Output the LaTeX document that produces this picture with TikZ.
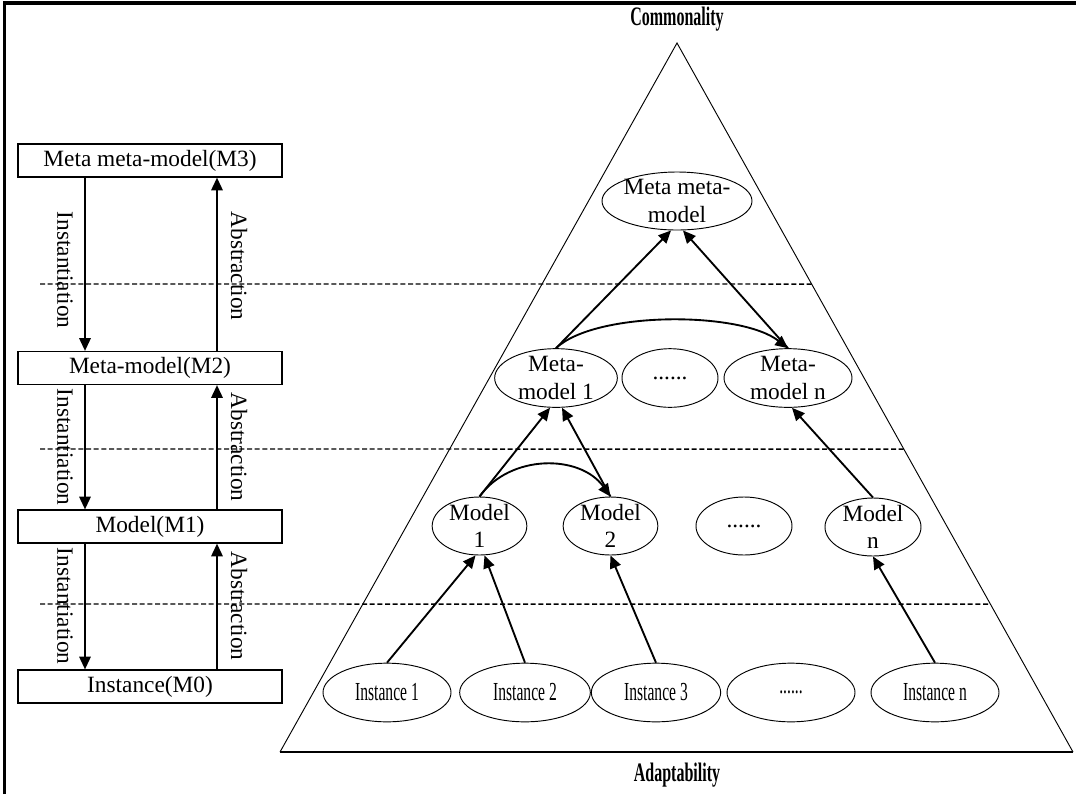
\documentclass[tikz,border=0pt]{standalone}
\usepackage{fontspec}
\usepackage{graphicx}
\setmainfont{Liberation Serif}
\usetikzlibrary{arrows.meta,calc,shapes.geometric}
% horizontally condensed text
\newcommand{\condensed}[1]{\scalebox{0.6}[1]{#1}}

\begin{document}
\begin{tikzpicture}[x=0.75pt,y=-0.75pt,
  font=\fontsize{17.5}{20.5}\selectfont,
  level/.style={draw,line width=0.9pt,minimum width=198pt,minimum height=24.75pt,inner sep=0pt},
  oval/.style={draw,ellipse,line width=0.7pt,inner sep=0pt,minimum width=#1,minimum height=44pt},
  txt/.style={align=center,inner sep=0pt},
  itxt/.style={txt,font=\fontsize{19.5}{21}\selectfont},
  arr/.style={line width=1.4pt,-{Triangle[length=9.5pt,width=8.5pt]}},
  sep/.style={line width=1.1pt,dash pattern=on 3.75pt off 2pt},
  vlabel/.style={rotate=-90,inner sep=0pt},
  heading/.style={font=\bfseries\fontsize{20}{22}\selectfont}
]
\useasboundingbox (0,0) rectangle (1076,794);

% outer frame (top and left edges)
\draw[line width=2.6pt] (4.5,794) -- (4.5,3) -- (1076,3);

% ---------- metamodel levels ----------
\node[level] (m3) at (150,160.5) {Meta meta-model(M3)};
\node[level] (m2) at (150,368) {Meta-model(M2)};
\node[level] (m1) at (150,526.5) {Model(M1)};
\node[level] (m0) at (150,686.5) {Instance(M0)};

\coordinate (dn) at (85,0);
\coordinate (up) at (217,0);

\draw[arr] (m3.south -| dn) -- (m2.north -| dn);
\draw[arr] (m2.south -| dn) -- (m1.north -| dn);
\draw[arr] (m1.south -| dn) -- (m0.north -| dn);
\draw[arr] (m2.north -| up) -- (m3.south -| up);
\draw[arr] (m1.north -| up) -- (m2.south -| up);
\draw[arr] (m0.north -| up) -- (m1.south -| up);

\node[vlabel] (in3) at (65,270) {Instantiation};
\node[vlabel] (in2) at (65,447) {Instantiation};
\node[vlabel] (in1) at (65,606) {Instantiation};
\node[vlabel] (ab3) at (239,266) {Abstraction};
\node[vlabel] (ab2) at (239,447) {Abstraction};
\node[vlabel] (ab1) at (239,606) {Abstraction};

% ---------- pyramid ----------
\coordinate (apex) at (677,43);
\coordinate (bl) at (280,752);
\coordinate (br) at (1073,752);
\draw[line width=0.7pt] (bl) -- (apex) -- (br);
\draw[line width=1.1pt] (bl) -- (br);

\node[heading] (top) at (677,19) {\condensed{Commonality}};
\node[heading] (bottom) at (677,775) {\condensed{Adaptability}};

% level separators
\draw[sep] (40,284) -- (intersection of apex--br and 0,284--1076,284);
\draw[sep] (40,449) -- (intersection of apex--br and 0,449--1076,449);
\draw[sep] (40,604) -- (intersection of apex--br and 0,604--1076,604);

% ---------- ellipses ----------
\node[oval=112.5pt,minimum height=43.5pt,label={[txt]center:Meta meta-\\model}] (mmm) at (677,201) {};

\node[oval=92pt,label={[txt]center:Meta-\\model 1}] (mm1) at (556,378) {};
\node[oval=72pt,label={[txt]center:......}] (mmd) at (670,378) {};
\node[oval=96pt,label={[txt]center:Meta-\\model n}] (mmn) at (788,378) {};

\node[oval=71pt,minimum height=43.5pt,label={[txt]center:Model\\1}] (md1) at (479.5,526) {};
\node[oval=71pt,minimum height=43.5pt,label={[txt]center:Model\\2}] (md2) at (610.5,526) {};
\node[oval=72pt,minimum height=43.5pt,label={[txt]center:......}] (mdd) at (744,526) {};
\node[oval=72pt,minimum height=43.5pt,label={[txt]center:Model\\n}] (mdn) at (873,527) {};

\node[oval=96pt,label={[itxt]center:\condensed{Instance 1}}] (i1) at (387,692.5) {};
\node[oval=98pt,label={[itxt]center:\condensed{Instance 2}}] (i2) at (525,692.5) {};
\node[oval=97pt,label={[itxt]center:\condensed{Instance 3}}] (i3) at (656,692.5) {};
\node[oval=96pt,label={[itxt]center:\condensed{......}}] (id) at (791,692.5) {};
\node[oval=96pt,label={[itxt]center:\condensed{Instance n}}] (inn) at (935,692.5) {};

% ---------- relations ----------
\draw[arr] (mm1.north) -- ($(mmm.south)+(-6,0)$);
\draw[arr] (mmn.north) -- ($(mmm.south)+(6,0)$);
\draw[arr] (mm1.north) .. controls (595,311) and (740,311) .. (mmn.north);

\draw[arr] (md1.north) -- ($(mm1.south)+(-6,0)$);
\draw[arr] (md2.north) -- ($(mm1.south)+(6,0)$);
\draw[arr] (md1.north) .. controls (510,454) and (580,454) .. (md2.north);
\draw[arr] (mdn.north) -- ($(mmn.south)+(4,0)$);

\draw[arr] (i1.north) -- ($(md1.south)+(-4,0)$);
\draw[arr] (i2.north) -- ($(md1.south)+(5,0)$);
\draw[arr] (i3.north) -- (md2.south);
\draw[arr] (inn.north) -- (mdn.south);
\end{tikzpicture}
\end{document}
